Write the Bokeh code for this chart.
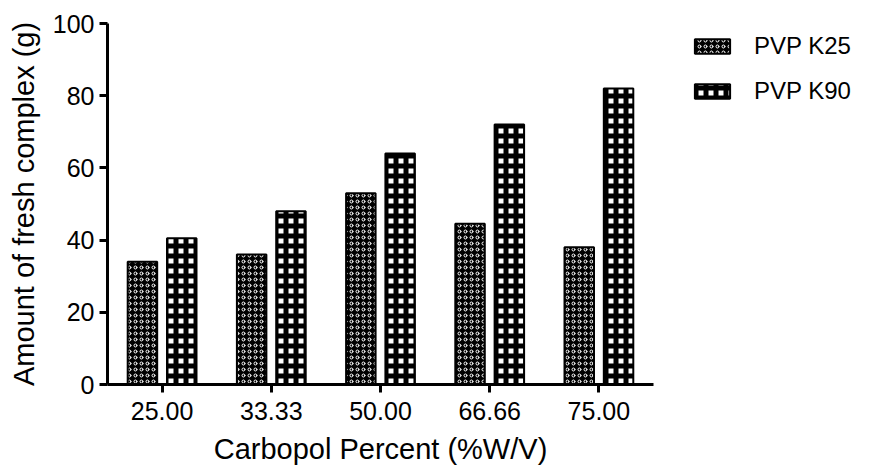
from bokeh.plotting import figure
from bokeh.models import ColumnDataSource, FactorRange, FixedTicker, Legend, LegendItem
from bokeh.transform import dodge
from bokeh.embed import file_html
from bokeh.resources import INLINE

categories = ["25.00", "33.33", "50.00", "66.66", "75.00"]
pvp_k25 = [34, 36, 53, 44.5, 38]
pvp_k90 = [40.5, 48, 64, 72, 82]
y_ticks = [0, 20, 40, 60, 80, 100]

src = ColumnDataSource(dict(cat=categories, k25=pvp_k25, k90=pvp_k90))

FONT = "Liberation Sans"

p = figure(x_range=FactorRange(*categories), y_range=(0, 100),
           frame_width=546, frame_height=361,
           min_border_left=107, min_border_right=222, min_border_top=23, min_border_bottom=85,
           output_backend="svg", toolbar_location=None, background_fill_color="white",
           border_fill_color="white")
p.outline_line_color = None
p.xgrid.grid_line_color = None
p.ygrid.grid_line_color = None

r1 = p.vbar(x=dodge("cat", -0.18, range=p.x_range), top="k25", width=0.27, bottom=0, source=src,
            fill_color="black", line_color="black", line_width=2,
            hatch_pattern="ring", hatch_color="white", hatch_scale=6, hatch_weight=1)
r2 = p.vbar(x=dodge("cat", 0.18, range=p.x_range), top="k90", width=0.27, bottom=0, source=src,
            fill_color="white", line_color="black", line_width=2,
            hatch_pattern="+", hatch_color="black", hatch_scale=10, hatch_weight=5)

for ax in (p.xaxis[0], p.yaxis[0]):
    ax.axis_line_width = 3
    ax.axis_line_color = "black"
    ax.major_tick_line_width = 3
    ax.major_tick_line_color = "black"
    ax.major_tick_out = 8
    ax.major_tick_in = 0
    ax.minor_tick_line_color = None
    ax.major_label_text_font = FONT
    ax.major_label_text_font_size = "25px"
    ax.major_label_text_color = "black"
    ax.axis_label_text_font = FONT
    ax.axis_label_text_font_size = "29px"
    ax.axis_label_text_font_style = "normal"
    ax.axis_label_text_color = "black"

p.yaxis.ticker = FixedTicker(ticks=y_ticks)
p.yaxis.major_label_standoff = 5
p.yaxis.axis_label = "Amount of fresh complex (g)"
p.yaxis.axis_label_standoff = 10
p.xaxis.major_label_standoff = 9
p.xaxis.axis_label = "Carbopol Percent (%W/V)"
p.xaxis.axis_label_standoff = 10

legend = Legend(items=[LegendItem(label="PVP K25", renderers=[r1]),
                       LegendItem(label="PVP K90", renderers=[r2])],
                location=(37, 279), margin=0, padding=0,
                border_line_color=None, background_fill_alpha=0,
                glyph_width=44, glyph_height=18, label_standoff=20,
                label_text_font=FONT, label_text_font_size="24px",
                label_text_color="black", spacing=17)
p.add_layout(legend, "right")

open("out.html", "w").write(file_html(p, INLINE))
